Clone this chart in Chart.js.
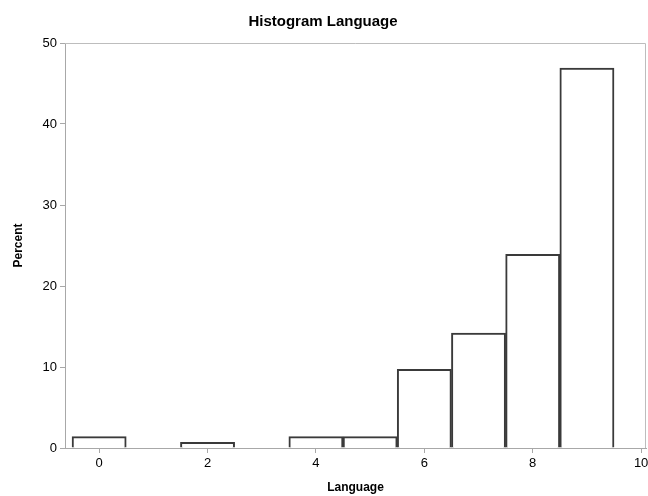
<!DOCTYPE html>
<html>
<head>
<meta charset="utf-8">
<script src="https://cdn.jsdelivr.net/npm/chart.js@4/dist/chart.umd.min.js"></script>
<style>
  html, body { margin: 0; padding: 0; background: #fff; }
  #myChart { display: block; }
</style>
</head>
<body>
<canvas id="myChart" width="648" height="496"></canvas>
<script>
// histogram bins (centre of each bin) and percent per bin
const binCenters = [0, 2, 4, 5, 6, 7, 8, 9];
const percents = [1.4, 0.7, 1.4, 1.4, 9.7, 14.2, 23.9, 46.9];
const xTicks = [0, 2, 4, 6, 8, 10];
const yTicks = [0, 10, 20, 30, 40, 50];

const points = binCenters.map((c, i) => ({ x: c, y: percents[i] }));

// box around the plot area (top and right edges)
const frame = {
    id: 'frame',
    beforeDatasetsDraw(chart, args, options) {
        const { ctx, chartArea: { top, right, bottom, left } } = chart;
        ctx.save();
        ctx.strokeStyle = options.color;
        ctx.lineWidth = 1;
        ctx.beginPath();
        ctx.moveTo(left, top + 0.5);
        ctx.lineTo(right - 0.5, top + 0.5);
        ctx.lineTo(right - 0.5, bottom);
        ctx.stroke();
        ctx.restore();
    }
};

const axisGrey = '#a8a8a8';
const labelFont = 'Liberation Sans, Arial, sans-serif';

const data = {
    datasets: [{
        label: 'Percent',
        data: points,
        backgroundColor: '#ffffff',
        borderColor: '#3a3a3a',
        borderWidth: 2,
        borderSkipped: 'bottom',
        barPercentage: 1,
        categoryPercentage: 1,
    }]
};

const config = {
    type: 'bar',
    data: data,
    options: {
        responsive: false,
        animation: false,
        layout: { padding: { left: 0, right: 2, top: 0, bottom: 0 } },
        scales: {
            x: {
                type: 'linear',
                offset: false,
                min: -0.63,
                max: 10.09,
                afterBuildTicks(scale) {
                    scale.ticks = xTicks.map(v => ({ value: v }));
                },
                afterFit(scale) {
                    scale.height = 48;
                    // let the "10" label run past the plot edge
                    scale.paddingLeft = 0;
                    scale.paddingRight = 0;
                },
                grid: { offset: false, drawOnChartArea: false, drawTicks: true, tickLength: 5, color: axisGrey },
                border: { color: axisGrey, width: 1 },
                ticks: { color: '#000', padding: 3, font: { family: labelFont, size: 13 } },
                title: {
                    display: true,
                    text: 'Language',
                    color: '#000',
                    padding: { top: 1, bottom: 1 },
                    font: { family: labelFont, size: 12, weight: 'bold' }
                }
            },
            y: {
                min: 0,
                max: 50,
                afterBuildTicks(scale) {
                    scale.ticks = yTicks.map(v => ({ value: v }));
                },
                afterFit(scale) { scale.width = 65; },
                grid: { drawOnChartArea: false, drawTicks: true, tickLength: 5, color: axisGrey },
                border: { color: axisGrey, width: 1 },
                ticks: { color: '#000', padding: 3, font: { family: labelFont, size: 13 } },
                title: {
                    display: true,
                    text: 'Percent',
                    color: '#000',
                    padding: { top: 11, bottom: 0 },
                    font: { family: labelFont, size: 12, weight: 'bold' }
                }
            }
        },
        plugins: {
            legend: { display: false },
            tooltip: { enabled: false },
            title: {
                display: true,
                text: 'Histogram Language',
                color: '#000',
                padding: { top: 13, bottom: 12 },
                font: { family: labelFont, size: 15, weight: 'bold' }
            },
            frame: { color: '#bdbdbd' }
        }
    },
    plugins: [frame]
};

const myChart = new Chart(document.getElementById('myChart'), config);
</script>
</body>
</html>
